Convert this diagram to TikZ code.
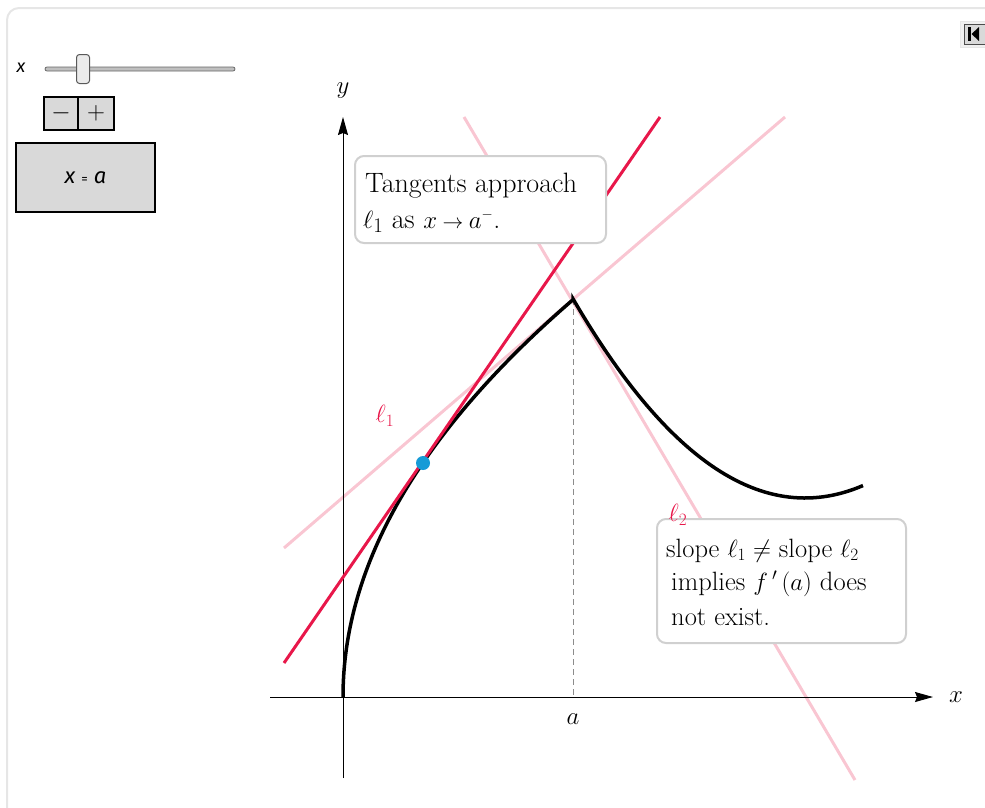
\documentclass[tikz,border=0pt]{standalone}
\usepackage{fontspec}
\newfontfamily\ctlfont{Fira Sans}
\usetikzlibrary{arrows.meta}
\definecolor{crim}{RGB}{232,23,74}
\definecolor{lpink}{RGB}{249,198,210}
\definecolor{dotblue}{RGB}{22,155,215}
\definecolor{framegray}{RGB}{230,230,230}
\definecolor{boxgray}{RGB}{208,208,208}
\definecolor{ctlgray}{RGB}{217,217,217}
\tikzset{
  bigA/.style={font=\fontsize{28}{32}\selectfont},
  bigB/.style={font=\fontsize{26.5}{30}\selectfont},
  lab/.style={font=\fontsize{27}{27}\selectfont},
  txtbox/.style={draw=boxgray, line width=2pt, rounded corners=9pt, fill=white},
  ctl/.style={draw=black, line width=1.6pt, fill=ctlgray},
  lightline/.style={lpink, line width=3pt},
  axis/.style={line width=1pt, -{Stealth[length=18pt,width=10pt,inset=2pt]}},
}
\begin{document}
\begin{tikzpicture}[x=1pt,y=-1pt]
\useasboundingbox (0,0) rectangle (985,807);
% outer frame
\draw[framegray, line width=2pt, rounded corners=12pt] (7,8) rectangle (1000,830);
% top-right icon
\node[draw=framegray, fill=white!94!black, minimum width=30pt, minimum height=26pt, inner sep=0pt] (iconbg) at (975,34) {};
\node[draw=black!70, fill=ctlgray, line width=1pt, minimum width=25pt, minimum height=20pt, inner sep=0pt] (icon) at (977,34) {};
\fill (968,27) rectangle (970.5,41);
\fill (979,27) -- (979,41) -- (971.5,34) -- cycle;
% slider
\node[font=\ctlfont\itshape\fontsize{18}{18}\selectfont] (xlab) at (21,68) {x};
\draw[black!60, fill=black!25, line width=0.8pt, rounded corners=2pt] (45,67) rectangle (235,71);
\node[draw=black!65, line width=1pt, fill=black!8, rounded corners=3pt, minimum width=13pt, minimum height=29pt, inner sep=0pt] (thumb) at (83,69) {};
% buttons
\node[ctl, minimum width=34pt, minimum height=33pt, inner sep=0pt, font=\fontsize{27}{27}\selectfont] (minus) at (61,113.5) {$-$};
\node[ctl, minimum width=36pt, minimum height=33pt, inner sep=0pt, font=\fontsize{27}{27}\selectfont] (plus) at (96,113.5) {$+$};
\node[ctl, minimum width=139pt, minimum height=69pt, inner sep=0pt, font=\ctlfont\itshape\fontsize{22}{22}\selectfont] (xeqa) at (85.5,177.5) {x\hspace{6pt}{\upshape\fontsize{13}{13}\selectfont =}\hspace{6pt}a};
% light tangent lines
\coordinate (p1a) at (284,548);
\coordinate (p1b) at (785,117);
\coordinate (p2a) at (464,117);
\coordinate (p2b) at (855,780);
\draw[lightline] (p1a) -- (p1b);
\draw[lightline] (p2a) -- (p2b);
% dashed vertical
\coordinate (peak) at (573,299);
\coordinate (afoot) at (573,697);
\draw[black!45, line width=1pt, dash pattern=on 6pt off 4pt] (peak) -- (afoot);
% axes
\coordinate (xs) at (270,697);
\coordinate (xe) at (933,697);
\coordinate (ys) at (343,778);
\coordinate (ye) at (343,117);
\draw[axis] (xs) -- (xe);
\draw[axis] (ys) -- (ye);
\node[lab] (xl) at (956,697) {$x$};
\node[lab] (yl) at (343,91) {$y$};
\node[lab] (al) at (573,719) {$a$};
% curve
\draw[line width=3.5pt, line join=miter] plot[variable=\t, domain=0:15.166, samples=80] ({343+\t*\t},{697-26.2*\t})
  -- plot[variable=\u, domain=573:863, samples=60] (\u,{498-37*((\u-805)/100)*((\u-805)/100)});
% dark tangent
\coordinate (t1a) at (284,663);
\coordinate (t1b) at (660,117);
\draw[crim, line width=3pt] (t1a) -- (t1b);
% dot
\node[circle, fill=dotblue, minimum size=14pt, inner sep=0pt] (dot) at (423,463) {};
% labels l1
\node[crim, lab] (l1) at (385,416) {$\ell_1$};
% text box 1
\node[txtbox, minimum width=251pt, minimum height=87pt, inner sep=0pt] (box1) at (480.5,199.5) {};
\node[bigA, anchor=base west, inner sep=0pt] (b1l1) at (365,192) {Tangents approach};
\node[bigA, anchor=base west, inner sep=0pt] (b1l2) at (363,228) {$\ell_1$ as $x\mathbin{\hbox{\fontsize{21}{21}\selectfont$\to$}}a^{\scriptscriptstyle -}$.};
% text box 2
\node[txtbox, minimum width=249pt, minimum height=124pt, inner sep=0pt] (box2) at (781.5,581) {};
\node[crim, lab] (l2) at (678,515) {$\ell_2$};
\node[bigB, anchor=base west, inner sep=0pt] (b2l1) at (666,557) {slope $\ell_1 \neq$ slope $\ell_2$};
\node[bigB, anchor=base west, inner sep=0pt] (b2l2) at (671,590) {implies $f\,'\,(a)$ does};
\node[bigB, anchor=base west, inner sep=0pt] (b2l3) at (671,625) {not exist.};
\end{tikzpicture}
\end{document}
